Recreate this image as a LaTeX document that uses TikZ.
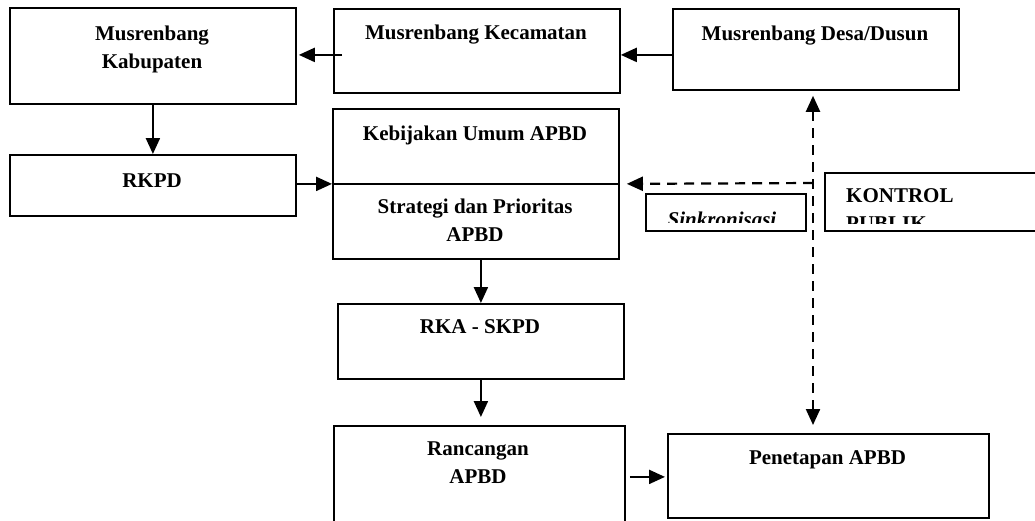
\documentclass[tikz,border=0pt]{standalone}
\usepackage{fontspec}
\setmainfont{Liberation Serif}
\usetikzlibrary{arrows.meta,calc}
\begin{document}
\begin{tikzpicture}[x=1pt,y=-1pt,
  >={Triangle[length=16pt,width=14pt]},
  box/.style={draw,line width=1.8pt,inner sep=0pt,anchor=north west},
  txt/.style={font=\fontsize{21}{28}\selectfont\bfseries,inner sep=0pt,align=center},
  arr/.style={line width=2.2pt,->},
  darr/.style={line width=2.2pt,dash pattern=on 10pt off 7pt}]
\useasboundingbox (0,0) rectangle (1035,520);
\clip (0,0) rectangle (1035,520);

% boxes
\node[box,minimum width=286pt,minimum height=96pt]  (kab)  at (9,7) {};
\node[box,minimum width=286pt,minimum height=84pt]  (kec)  at (333,8) {};
\node[box,minimum width=286pt,minimum height=81pt]  (desa) at (672,8) {};
\node[box,minimum width=286pt,minimum height=61pt]  (rkpd) at (9,154) {};
\node[box,minimum width=286pt,minimum height=150pt] (keb)  at (332,108) {};
\node[box,minimum width=286pt,minimum height=75pt]  (rka)  at (337,303) {};
\node[box,minimum width=291pt,minimum height=102pt] (ran)  at (333,425) {};
\node[box,minimum width=321pt,minimum height=84pt]  (pen)  at (667,433) {};
\node[box,minimum width=160pt,minimum height=37pt]  (sink) at (645,193) {};
\node[box,minimum width=230pt,minimum height=58pt]  (kon)  at (824,172) {};

% divider inside the policy box
\draw[line width=1.8pt] (keb.west) -- (keb.east);

% labels
\node[txt,anchor=north] (kabT)  at (152,25.7) {Musrenbang\\Kabupaten};
\node[txt,anchor=base]  (kecT)  at (476,39) {Musrenbang Kecamatan};
\node[txt,anchor=base]  (desaT) at (815,40) {Musrenbang Desa/Dusun};
\node[txt,anchor=base]  (rkpdT) at (152,187) {RKPD};
\node[txt,anchor=base]  (kebT)  at (475,140) {Kebijakan Umum APBD};
\node[txt,anchor=north] (strT)  at (475,198.7) {Strategi dan Prioritas\\APBD};
\node[txt,anchor=base]  (rkaT)  at (480,333) {RKA - SKPD};
\node[txt,anchor=north] (ranT)  at (478,441.7) {Rancangan\\APBD};
\node[txt,anchor=base]  (penT)  at (827.5,464) {Penetapan APBD};

\begin{scope}
  \clip (sink.north west) rectangle ($(sink.south east)+(0,-9)$);
  \node[txt,font=\fontsize{21}{28}\selectfont\bfseries\itshape,anchor=base] (sinkT) at (722,226) {Sinkronisasi};
\end{scope}
\begin{scope}
  \clip (kon.north west) rectangle ($(kon.south east)+(0,-8)$);
  \node[txt,align=left,anchor=north west] (konT) at (846,188.7) {KONTROL\\PUBLIK};
\end{scope}

% solid flow arrows
\draw[arr] ($(kec.west)+(9,4)$) -- ($(kab.east)+(2,-1)$);
\draw[arr] ($(desa.west)+(0,5.5)$) -- ($(kec.east)+(0,4)$);
\draw[arr] (kab.south) -- (rkpd.north);
\draw[arr] ($(rkpd.east)+(0,-1.5)$) -- (keb.west);
\draw[arr] ($(keb.south)+(5,0)$) -- (rka.north);
\draw[arr,shorten >=8pt] (rka.south) -- (rka.south |- ran.north);
\draw[arr,shorten <=4pt,shorten >=2pt] (ran.east) -- (ran.east -| pen.west);

% dashed control links
\coordinate (ctl) at (813,183);
\draw[darr,->,shorten >=7pt] (ctl) -- (keb.east);
\draw[darr,<->,shorten <=5pt,shorten >=8pt] (desa.south -| ctl) -- (pen.north -| ctl);
\end{tikzpicture}
\end{document}
